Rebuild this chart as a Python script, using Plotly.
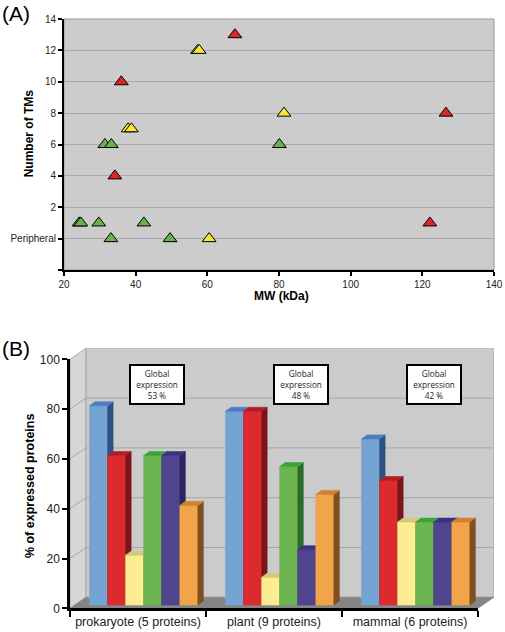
import plotly.graph_objects as go

# ---------------- Panel A data ----------------
red_mw = [67.7, 36.0, 34.2, 126.6, 122.1]
red_tm = [13, 10, 4, 8, 1]
yellow_mw = [57.3, 57.7, 37.9, 38.8, 81.4, 60.5]
yellow_tm = [12, 12, 7, 7, 8, 0]
green_mw = [31.4, 33.2, 80.1, 24.2, 24.7, 29.7, 42.3, 33.1, 49.6]
green_tm = [6, 6, 6, 1, 1, 1, 1, 0, 0]
mw_ticks = [20, 40, 60, 80, 100, 120, 140]
tm_tickvals = [-2, 0, 2, 4, 6, 8, 10, 12, 14]
tm_ticktext = ["", "Peripheral", "2", "4", "6", "8", "10", "12", "14"]

# ---------------- Panel B data ----------------
organisms = ["prokaryote (5 proteins)", "plant (9 proteins)", "mammal (6 proteins)"]
blue_pct = [80, 77.8, 66.7]
red_pct = [60, 77.8, 50]
yellow_pct = [20, 11.1, 33.3]
green_pct = [60, 55.6, 33.3]
purple_pct = [60, 22.2, 33.3]
orange_pct = [40, 44.4, 33.3]
global_expression = [53, 48, 42]
pct_ticks = [0, 20, 40, 60, 80, 100]

FONT = "Liberation Sans, Arial, sans-serif"
W, H = 505, 632

# layout geometry (pixels)
A_X = [64 / W, 494 / W]
A_Y = [1 - 270 / H, 1 - 19 / H]
B_X = [70 / W, 494 / W]
B_Y = [1 - 608.3 / H, 1 - 348.3 / H]
BA_X = [70 / W, 478 / W]
BA_Y = [1 - 608.3 / H, 1 - 359.3 / H]

CAT_PX = 136.0
VAL_PX = 2.49
XMAX = (494 - 70) / CAT_PX
YMAX = (608.3 - 348.3) / VAL_PX
WALL_DX = 16 / CAT_PX
WALL_DY = 11 / VAL_PX
BAR_W = 18.05 / CAT_PX
BASE_DX = 5.7 / CAT_PX
BASE_DY = 3.3 / VAL_PX
FACE_DX = 5.5 / CAT_PX
FACE_DY = 4.0 / VAL_PX

fig = go.Figure()

# ---------------- Panel A ----------------
for mw, tm, col in [(green_mw, green_tm, "#6ab04c"),
                    (yellow_mw, yellow_tm, "#f7e636"),
                    (red_mw, red_tm, "#dc2626")]:
    fig.add_trace(go.Scatter(
        x=mw, y=tm, mode="markers", xaxis="x", yaxis="y",
        marker=dict(symbol="triangle-up", size=12, color=col,
                    line=dict(color="black", width=1)),
        showlegend=False, hoverinfo="x+y"))

# ---------------- Panel B (pseudo 3D) ----------------
def poly(xs, ys, color, lc=None, width=0.6):
    fig.add_trace(go.Scatter(
        x=list(xs) + [xs[0]], y=list(ys) + [ys[0]], mode="lines",
        fill="toself", fillcolor=color,
        line=dict(color=lc or color, width=width),
        xaxis="x2", yaxis="y2", hoverinfo="skip", showlegend=False))

ncat = len(organisms)
# left wall
poly([0, WALL_DX, WALL_DX, 0], [0, WALL_DY, 100 + WALL_DY, 100], "#d6d6d6", lc="#a8a8a8", width=1)
# back wall
poly([WALL_DX, ncat + WALL_DX, ncat + WALL_DX, WALL_DX],
     [WALL_DY, WALL_DY, 100 + WALL_DY, 100 + WALL_DY], "#cbcbcb", lc="#a8a8a8", width=1)
# gridlines
gx, gy = [], []
for v in pct_ticks[1:-1]:
    gx += [0, WALL_DX, ncat + WALL_DX, None]
    gy += [v, v + WALL_DY, v + WALL_DY, None]
fig.add_trace(go.Scatter(x=gx, y=gy, mode="lines", line=dict(color="#a6a6a6", width=1),
                         xaxis="x2", yaxis="y2", hoverinfo="skip", showlegend=False))
# floor
poly([0, ncat, ncat + WALL_DX, WALL_DX], [0, 0, WALL_DY, WALL_DY], "#858585")

series = [
    (blue_pct, "#74a3d4", "#4a7ec0", "#2e5282"),
    (red_pct, "#dd2a2f", "#b01e24", "#7a1519"),
    (yellow_pct, "#fbee90", "#d6c87a", "#a89a50"),
    (green_pct, "#6cb550", "#3aa43c", "#2a6b2a"),
    (purple_pct, "#51448f", "#3c3084", "#2b2362"),
    (orange_pct, "#f2a44a", "#d0802f", "#7f5020"),
]
nser = len(series)
for j in range(ncat):
    for i, (vals, front, top, side) in enumerate(series):
        v = vals[j]
        x0 = j + 0.5 + BASE_DX + (i - nser / 2) * BAR_W
        x1 = x0 + BAR_W
        y0 = BASE_DY
        y1 = BASE_DY + v
        poly([x0, x1, x1, x0], [y0, y0, y1, y1], front)
        poly([x1, x1 + FACE_DX, x1 + FACE_DX, x1], [y0, y0 + FACE_DY, y1 + FACE_DY, y1], side)
        poly([x0, x1, x1 + FACE_DX, x0 + FACE_DX], [y1, y1, y1 + FACE_DY, y1 + FACE_DY], top)

annotations = []
box_x = [0.64, 1.695, 2.678]
for j, g in enumerate(global_expression):
    annotations.append(dict(
        x=box_x[j], y=89.8, xref="x3", yref="y3", showarrow=False,
        text=f"Global<br>expression<br>{g} %", align="center",
        font=dict(family="Open Sans, sans-serif", size=8.2, color="#1a1a1a"),
        bgcolor="white", bordercolor="black", borderwidth=2, borderpad=1,
        width=50, height=35))

def label(text, x, y, size, angle=0, xanchor="center"):
    annotations.append(dict(x=x / W, y=1 - y / H, xref="paper", yref="paper",
                            text=text, showarrow=False, textangle=angle,
                            xanchor=xanchor, yanchor="middle",
                            font=dict(family=FONT, size=size, color="black")))

label("(A)", 0, 13, 21, xanchor="left")
label("(B)", 0, 348, 21, xanchor="left")
label("<b>Number of TMs</b>", 29.3, 133, 12, angle=-90)
label("<b>MW (kDa)</b>", 281.7, 296, 12)
label("<b>% of expressed proteins</b>", 29.3, 485.8, 12.5, angle=-90)

shapes = [dict(type="rect", xref="x domain", yref="y domain", x0=0, x1=1, y0=0, y1=1,
               fillcolor="#cccccc", line=dict(color="#9a9a9a", width=1), layer="below")]

fig.update_layout(
    width=W, height=H, margin=dict(l=0, r=0, t=0, b=0, autoexpand=False),
    paper_bgcolor="white", plot_bgcolor="rgba(0,0,0,0)",
    font=dict(family=FONT, color="#222"),
    showlegend=False,
    annotations=annotations, shapes=shapes,
    xaxis=dict(domain=A_X, anchor="y", range=[20, 140], tickvals=mw_ticks,
               ticks="outside", ticklen=4, tickwidth=1.5, tickcolor="black",
               showline=True, linecolor="black", linewidth=2, showgrid=False,
               zeroline=False, automargin=False, tickfont=dict(size=10, color="#222")),
    yaxis=dict(domain=A_Y, anchor="x", range=[-2, 14], tickvals=tm_tickvals,
               ticktext=tm_ticktext, ticks="outside", ticklen=4, tickwidth=1.5,
               tickcolor="black", showline=True, linecolor="black", linewidth=2,
               showgrid=True, gridcolor="#a8a8a8", gridwidth=1, zeroline=False,
               automargin=False, tickfont=dict(size=10, color="#222")),
    xaxis2=dict(domain=B_X, anchor="y2", range=[0, XMAX], visible=False,
                fixedrange=True, automargin=False),
    yaxis2=dict(domain=B_Y, anchor="x2", range=[0, YMAX], visible=False,
                fixedrange=True, automargin=False),
    xaxis3=dict(domain=BA_X, anchor="y3", range=[0, ncat],
                tickvals=[k + 0.5 for k in range(ncat)], ticktext=organisms,
                ticks="", showline=True, linecolor="black", linewidth=2.5,
                showgrid=False, zeroline=False, automargin=False,
                tickfont=dict(size=12.5, color="#222"),
                minor=dict(tick0=0, dtick=1, ticks="outside", ticklen=6,
                           tickwidth=2, tickcolor="black", showgrid=False)),
    yaxis3=dict(domain=BA_Y, anchor="x3", range=[0, 100], tickvals=pct_ticks,
                ticks="outside", ticklen=5, tickwidth=2, tickcolor="black",
                showline=True, linecolor="black", linewidth=2.5, showgrid=False,
                zeroline=False, automargin=False, tickfont=dict(size=12, color="#222")),
)

fig.write_html("out.html", config={"displayModeBar": False},
               post_script="document.body.style.margin='0';document.body.style.overflow='hidden';")
